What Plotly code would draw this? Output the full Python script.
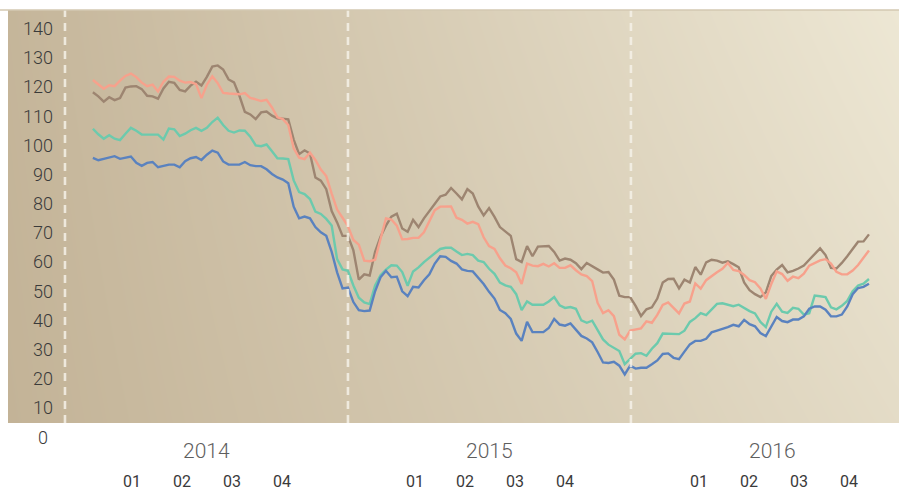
import pandas as pd
import plotly.graph_objects as go

# ---------------- data ----------------
dates = pd.date_range("2014-02-06", periods=144, freq="7D")

salmon = [122.4, 121.0, 119.4, 120.6, 120.3, 122.2, 123.8, 124.6, 123.4, 121.5,
          120.3, 120.8, 118.5, 121.8, 123.6, 123.5, 122.2, 121.5, 121.7, 121.0,
          116.2, 120.8, 123.7, 121.3, 118.0, 117.8, 117.6, 117.5, 117.9, 116.3,
          115.8, 115.2, 115.6, 113.0, 109.6, 109.0, 107.0, 99.0, 95.8, 95.3,
          97.5, 95.0, 91.7, 89.5, 83.5, 78.0, 75.2, 72.3, 67.6, 66.0,
          60.5, 60.3, 60.8, 68.0, 75.0, 74.6, 72.5, 67.8, 67.9, 68.3,
          68.3, 70.2, 74.0, 77.8, 79.0, 79.1, 79.1, 75.2, 74.5, 73.2,
          73.8, 73.0, 68.5, 65.5, 64.5, 61.3, 58.8, 57.9, 56.5, 52.5,
          59.5, 58.8, 58.6, 59.4, 58.5, 59.6, 58.0, 58.0, 58.9, 57.2,
          55.8, 55.2, 53.5, 46.0, 42.5, 43.5, 41.5, 35.1, 33.5, 36.5,
          37.0, 37.3, 39.7, 39.2, 41.9, 45.3, 46.2, 44.2, 42.4, 45.8,
          46.5, 52.7, 50.9, 53.8, 55.3, 56.5, 57.7, 59.7, 57.3, 56.9,
          55.6, 53.8, 53.1, 51.0, 47.4, 52.5, 56.8, 55.9, 53.6, 55.0,
          54.5, 56.0, 58.8, 59.7, 60.6, 61.0, 59.5, 56.7, 55.8, 55.8,
          57.1, 59.0, 61.5, 64.0]

brown = [118.2, 116.8, 115.0, 116.5, 115.5, 116.2, 119.8, 120.2, 120.3, 119.3,
         117.0, 116.8, 116.0, 119.5, 121.8, 121.4, 119.0, 118.5, 120.5, 121.8,
         120.5, 123.5, 127.0, 127.4, 126.0, 122.6, 121.6, 117.0, 111.5, 110.6,
         109.0, 111.3, 111.6, 110.2, 109.3, 109.0, 108.9, 102.0, 97.0, 98.3,
         97.2, 89.0, 87.9, 85.0, 77.5, 73.6, 69.0, 69.0, 64.0, 54.0,
         55.8, 55.4, 63.5, 68.7, 72.5, 75.6, 76.6, 71.5, 70.4, 74.5,
         72.0, 75.0, 77.5, 80.3, 82.5, 83.1, 85.4, 83.5, 81.5, 85.0,
         83.5, 79.1, 76.0, 78.5, 75.5, 72.0, 70.6, 69.0, 61.0, 60.0,
         65.5, 62.0, 65.3, 65.5, 65.5, 63.5, 60.5, 61.2, 60.8, 59.6,
         57.6, 59.7, 58.5, 57.5, 56.4, 56.6, 54.0, 48.5, 48.0, 48.0,
         45.0, 41.5, 43.8, 44.5, 47.5, 53.0, 54.2, 54.3, 51.0, 54.0,
         53.0, 58.3, 55.7, 59.9, 60.8, 60.5, 59.8, 60.3, 59.3, 58.2,
         53.0, 50.4, 49.0, 48.0, 49.6, 55.2, 57.4, 59.0, 56.5, 57.0,
         57.8, 58.8, 60.8, 62.6, 64.7, 62.4, 58.0, 57.8, 59.7, 62.0,
         64.6, 67.0, 67.1, 69.5]

teal = [105.7, 103.8, 102.3, 103.5, 102.3, 101.8, 104.0, 106.0, 105.0, 103.7,
        103.7, 103.7, 103.7, 102.0, 105.8, 105.5, 103.2, 104.0, 105.2, 106.0,
        105.0, 106.0, 108.0, 109.5, 107.0, 105.0, 104.4, 105.1, 105.0, 103.0,
        100.0, 99.7, 100.3, 98.0, 95.6, 95.5, 95.3, 88.0, 84.0, 83.3,
        81.6, 77.3, 76.5, 74.8, 72.5, 61.0, 57.5, 57.0, 52.0, 47.8,
        46.2, 45.6, 52.0, 55.5, 57.4, 58.9, 58.8, 56.6, 51.9, 56.8,
        58.2, 60.0, 61.4, 63.0, 64.5, 64.9, 64.9, 63.6, 62.4, 62.8,
        62.4, 60.5, 60.0, 57.7, 56.0, 53.0, 52.0, 51.5, 49.0, 43.5,
        46.5, 45.4, 45.4, 45.4, 46.5, 48.0, 45.2, 44.3, 44.6, 44.0,
        40.0, 39.2, 39.9, 36.5, 33.5, 31.7, 30.6, 29.5, 25.0, 26.8,
        28.6, 28.8, 27.9, 30.3, 32.2, 35.5, 35.5, 35.5, 35.3, 36.5,
        39.5, 40.8, 42.5, 41.8, 43.6, 45.7, 45.9, 45.4, 44.9, 45.4,
        44.3, 43.2, 42.4, 39.5, 37.7, 43.0, 45.7, 43.0, 42.6, 44.3,
        44.0, 42.0, 42.5, 48.5, 48.3, 48.0, 44.5, 43.8, 45.0, 46.7,
        50.0, 52.0, 52.6, 54.2]

blue = [95.7, 94.9, 95.4, 95.8, 96.3, 95.4, 95.8, 96.2, 94.0, 93.0,
        94.0, 94.3, 92.5, 93.0, 93.4, 93.4, 92.5, 94.6, 95.6, 96.0,
        95.0, 96.8, 98.2, 97.5, 94.5, 93.4, 93.4, 93.4, 94.3, 93.2,
        92.9, 92.9, 91.8, 90.2, 89.0, 88.3, 87.0, 79.0, 75.0, 75.6,
        75.0, 72.0, 70.2, 69.0, 63.5, 56.5, 51.0, 51.3, 46.3, 43.5,
        43.2, 43.4, 50.0, 54.8, 57.0, 54.8, 55.0, 50.0, 48.3, 51.5,
        51.3, 53.8, 55.8, 59.5, 62.0, 61.8, 60.4, 59.5, 57.5, 57.0,
        56.8, 54.8, 52.5, 49.8, 47.5, 43.6, 42.5, 40.5, 35.5, 33.0,
        39.5, 36.0, 35.9, 36.0, 37.4, 40.5, 38.6, 38.2, 39.0, 36.8,
        34.7, 33.8, 32.5, 29.2, 25.6, 25.4, 25.8, 24.5, 21.5, 24.5,
        23.5, 23.8, 23.8, 25.0, 26.3, 28.5, 28.7, 27.2, 26.7, 29.3,
        31.8, 33.0, 33.0, 33.7, 35.9, 36.5, 37.0, 37.7, 38.5, 38.0,
        40.2, 38.7, 38.0, 35.7, 34.6, 38.0, 41.2, 39.8, 39.4, 40.3,
        40.3, 41.4, 44.0, 44.8, 44.8, 43.7, 41.4, 41.4, 42.0, 44.8,
        49.0, 51.1, 51.5, 52.6]

years = [2014, 2015, 2016]
quarter_labels = ["01", "02", "03", "04"]
y_ticks = list(range(10, 141, 10))
zero_label = 0

# ---------------- style ----------------
x_range = ["2013-10-19 12:00", "2016-12-11 18:00"]
y_range = [4.85, 146.4]
series = [
    (brown, "#9d8571"),
    (salmon, "#f7a18c"),
    (teal, "#6ccaad"),
    (blue, "#5a82bf"),
]
FONT = "Roboto"
AXIS_POS = 0.0505

fig = go.Figure()

# gradient background
fig.add_trace(go.Heatmap(
    x=x_range, y=y_range,
    z=[[0.0, 0.78], [0.05, 1.0]],
    zsmooth="best", showscale=False, hoverinfo="skip",
    colorscale=[[0, "#c3b397"], [1, "#ede7d4"]],
))

for vals, col in series:
    fig.add_trace(go.Scatter(
        x=dates, y=vals, mode="lines",
        line=dict(color=col, width=2.4),
        hoverinfo="skip", showlegend=False,
    ))

shapes = []
for yr in years:
    shapes.append(dict(
        type="line", xref="x", yref="paper",
        x0=f"{yr}-01-01", x1=f"{yr}-01-01", y0=0, y1=1,
        line=dict(color="rgba(245,241,232,0.85)", width=2.6, dash="8px,6px"),
        layer="above",
    ))
shapes.append(dict(type="line", xref="paper", yref="paper",
                   x0=-0.01, x1=1, y0=1, y1=1,
                   line=dict(color="#d3c8b2", width=1.5)))

annotations = []
for yr in years:
    annotations.append(dict(
        x=f"{yr}-07-02", y=0, xref="x", yref="paper",
        text=str(yr), showarrow=False, yanchor="middle", yshift=-28,
        font=dict(family=FONT, size=21, color="#5e5e5e", weight=300),
    ))
    for k, q in enumerate(quarter_labels):
        annotations.append(dict(
            x=f"{yr}-07-02", y=0, xref="x", yref="paper",
            text=q, showarrow=False, yanchor="middle",
            yshift=-58, xshift=(k - 1.5) * 50 + 1,
            font=dict(family=FONT, size=16, color="#3a3a3a", weight=400),
        ))
annotations.append(dict(
    x=AXIS_POS, y=(zero_label - y_range[0]) / (y_range[1] - y_range[0]),
    xref="paper", yref="paper", text=str(zero_label), showarrow=False,
    xanchor="right", yanchor="middle", xshift=-3,
    font=dict(family=FONT, size=18, color="#3a3a3a", weight=300),
))

fig.update_layout(
    width=899, height=490,
    margin=dict(l=8, r=0, t=10, b=67),
    paper_bgcolor="white", plot_bgcolor="#d6ccb4",
    showlegend=False,
    shapes=shapes, annotations=annotations,
    xaxis=dict(range=x_range, type="date", showgrid=False, zeroline=False,
               showticklabels=False, ticks="", showline=False, fixedrange=True),
    yaxis=dict(range=y_range, showgrid=False, zeroline=False, showline=False,
               tickvals=y_ticks, ticktext=[str(v) for v in y_ticks],
               ticks="", anchor="free", position=AXIS_POS, side="left",
               tickfont=dict(family=FONT, size=18, color="#3a3a3a", weight=300),
               fixedrange=True),
)

fig.write_html(
    "out.html",
    config={"displayModeBar": False},
    post_script="document.body.style.margin='0';document.body.style.overflow='hidden';",
)
